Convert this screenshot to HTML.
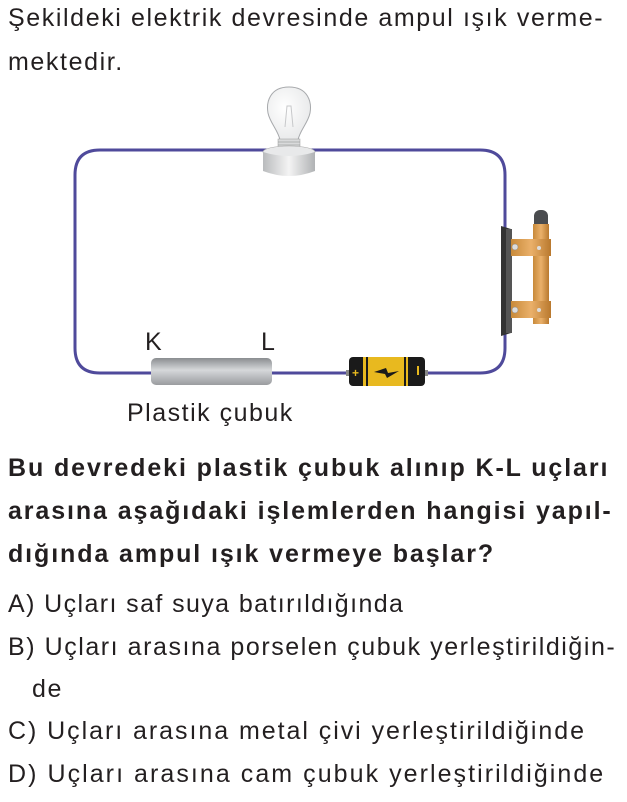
<!DOCTYPE html>
<html><head><meta charset="utf-8"><style>
body{margin:0;width:627px;height:802px;background:#fff;font-family:"Liberation Sans",sans-serif;color:#231f20;position:relative;overflow:hidden}
.t{position:absolute;left:8px;font-size:25px;white-space:nowrap;letter-spacing:1.6px}
.b{font-weight:bold;letter-spacing:1.9px}
.o{letter-spacing:1.8px}
</style></head><body>
<div class="t" style="top:4px">Şekildeki elektrik devresinde ampul ışık verme-</div>
<div class="t" style="top:48px">mektedir.</div>
<svg style="position:absolute;left:0;top:0" width="627" height="440">
<defs>
<linearGradient id="rod" x1="0" y1="0" x2="0" y2="1"><stop offset="0" stop-color="#8a8d90"/><stop offset=".45" stop-color="#d6d8da"/><stop offset="1" stop-color="#9a9c9f"/></linearGradient>
<linearGradient id="base" x1="0" y1="0" x2="1" y2="0"><stop offset="0" stop-color="#b9bbbd"/><stop offset=".5" stop-color="#f4f4f4"/><stop offset="1" stop-color="#b0b2b4"/></linearGradient>
<radialGradient id="glass" cx=".4" cy=".4" r=".7"><stop offset="0" stop-color="#fff"/><stop offset="1" stop-color="#e6e7e8"/></radialGradient>
<linearGradient id="cu" x1="0" y1="0" x2="1" y2="0"><stop offset="0" stop-color="#c88a3a"/><stop offset=".5" stop-color="#eab06a"/><stop offset="1" stop-color="#b9792e"/></linearGradient>
</defs>
<path d="M100 150 H480 Q505 150 505 175 V348 Q505 373 480 373 H100 Q75 373 75 348 V175 Q75 150 100 150 Z" fill="none" stroke="#4f4a9b" stroke-width="3"/>
<path d="M289 87 C270 87 266 102 268 113 C270 123 278 130 280 140 L298 140 C300 130 308 123 310 113 C312 102 308 87 289 87 Z" fill="url(#glass)" stroke="#a7a9ac" stroke-width="1"/>
<path d="M285 127 L287 106 L291 106 L293 127" fill="none" stroke="#c7c8ca" stroke-width="1"/>
<rect x="278" y="139" width="22" height="12" fill="#d9dadb" stroke="#999" stroke-width=".5"/>
<path d="M278 142 H300 M278 145 H300 M278 148 H300" stroke="#888" stroke-width=".6"/>
<ellipse cx="289" cy="152" rx="26" ry="6" fill="#e8e9ea" stroke="#aaa" stroke-width=".6"/>
<path d="M263 152 V171 Q289 181 315 171 V152 Q289 160 263 152 Z" fill="url(#base)"/>
<rect x="151" y="358" width="121" height="27" rx="5" fill="url(#rod)"/>
<rect x="346" y="370" width="4" height="6" fill="#888"/>
<rect x="424" y="370" width="4" height="6" fill="#888"/>
<rect x="349" y="357" width="76" height="29" rx="4" fill="#1a1a1a"/>
<rect x="363" y="357" width="45" height="29" fill="#e8b91f"/>
<rect x="366" y="357" width="2" height="29" fill="#1a1a1a"/><rect x="404" y="357" width="2" height="29" fill="#1a1a1a"/>
<text x="352" y="377" font-size="12" fill="#e8b91f" font-weight="bold">+</text>
<rect x="417" y="366" width="2" height="9" fill="#e8b91f"/>
<path d="M374 372 L386 368 L388 373 L399 371 L387 378 L385 374 Z" fill="#1a1a1a"/>
<path d="M501 226 L511 229 V333 L501 336 Z" fill="#333"/>
<rect x="506" y="229" width="6" height="104" fill="#555"/>
<rect x="534" y="210" width="14" height="20" rx="6" fill="#4a4c4f"/>
<rect x="533" y="224" width="16" height="100" fill="url(#cu)"/>
<rect x="511" y="239" width="40" height="17" fill="url(#cu)"/>
<rect x="511" y="301" width="40" height="17" fill="url(#cu)"/>
<circle cx="515" cy="247" r="3" fill="#ddd" stroke="#888" stroke-width=".5"/>
<circle cx="515" cy="310" r="3" fill="#ddd" stroke="#888" stroke-width=".5"/>
<circle cx="539" cy="248" r="2" fill="#ddd"/><circle cx="539" cy="310" r="2" fill="#ddd"/>
<text x="145" y="350" font-size="25" fill="#231f20" font-family="Liberation Sans">K</text>
<text x="261" y="350" font-size="25" fill="#231f20" font-family="Liberation Sans">L</text>
<text x="127" y="421" font-size="25" fill="#231f20" font-family="Liberation Sans" letter-spacing="1.5">Plastik çubuk</text>
</svg>
<div class="t b" style="top:454px">Bu devredeki plastik çubuk alınıp K-L uçları</div>
<div class="t b" style="top:497px">arasına aşağıdaki işlemlerden hangisi yapıl-</div>
<div class="t b" style="top:540px">dığında ampul ışık vermeye başlar?</div>
<div class="t" style="top:590px;letter-spacing:1.4px">A) Uçları saf suya batırıldığında</div>
<div class="t" style="top:633px;letter-spacing:1.55px">B) Uçları arasına porselen çubuk yerleştirildiğin-</div>
<div class="t" style="top:675px;left:32px">de</div>
<div class="t" style="top:717px;letter-spacing:1.95px">C) Uçları arasına metal çivi yerleştirildiğinde</div>
<div class="t" style="top:760px;letter-spacing:2.05px">D) Uçları arasına cam çubuk yerleştirildiğinde</div>
</body></html>
